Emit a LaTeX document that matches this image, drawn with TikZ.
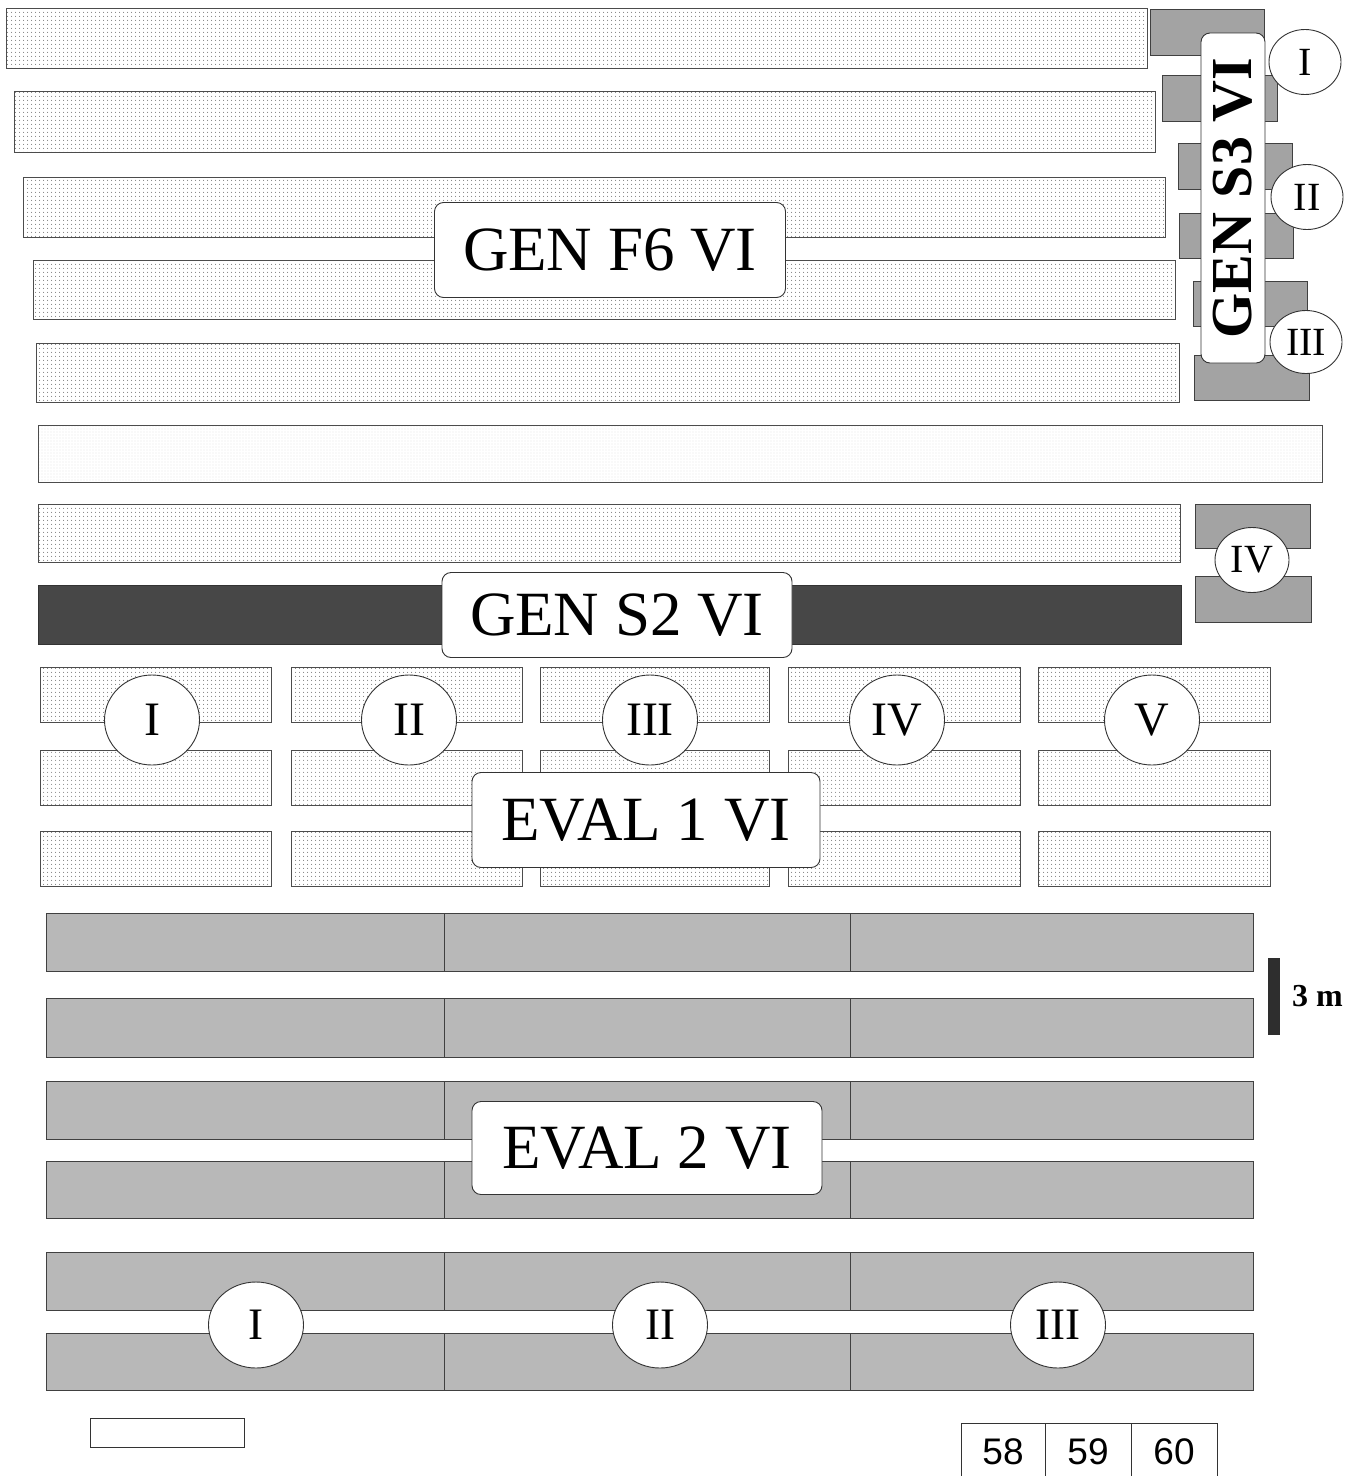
\documentclass[tikz,border=0pt]{standalone}
\usepackage{fontspec}
\setmainfont{Liberation Serif}
\newfontfamily\numfont{Liberation Sans}
\usetikzlibrary{shapes.geometric,patterns.meta}
\newcommand\fsz[1]{\fontsize{#1}{#1}\selectfont}
\tikzset{
  plotdot/.style={draw=black!70, line width=0.9pt, pattern={Dots[distance=4pt, radius=0.6pt]}, pattern color=black!55},
  plotlight/.style={draw=black!70, line width=0.9pt, pattern={Dots[distance=3pt, radius=0.45pt]}, pattern color=black!28},
  plotsmall/.style={draw=black!75, line width=0.9pt, fill=black!36},
  plotdark/.style={draw=black!80, line width=0.6pt, fill=black!72},
  plotgrey/.style={draw=black!75, line width=0.9pt, fill=black!28},
  divider/.style={draw=black!75, line width=0.9pt},
  lab/.style={draw=black!80, line width=0.9pt, fill=white, rounded corners=9pt, inner sep=0pt, font=\fsz{63}},
  circ/.style={ellipse, draw=black!80, line width=0.9pt, fill=white, inner sep=0pt},
  bigcirc/.style={circ, minimum width=95pt, minimum height=90pt, font=\fsz{48}},
  smallcirc/.style={circ, minimum width=72pt, minimum height=65pt, font=\fsz{40}},
  numbox/.style={draw=black!80, line width=0.9pt}
}
\begin{document}
\begin{tikzpicture}[x=1pt,y=-1pt]
\fill[white] (0,0) rectangle (1358,1476);
\useasboundingbox (0,0) rectangle (1358,1476);

% GEN F6 rows
\draw[plotdot] (6,8) rectangle (1147,68);
\draw[plotdot] (14,91) rectangle (1155,152);
\draw[plotdot] (23,177) rectangle (1165,237);
\draw[plotdot] (33,260) rectangle (1175,319);
\draw[plotdot] (36,343) rectangle (1179,402);
\draw[plotlight] (38,425) rectangle (1322,482);
\draw[plotdot] (38,504) rectangle (1180,562);
% GEN S2 bar
\draw[plotdark] (38,585) rectangle (1181,644);

% GEN S3 small plots
\draw[plotsmall] (1150,9) rectangle (1264,55);
\draw[plotsmall] (1162,75) rectangle (1277,121);
\draw[plotsmall] (1178,143) rectangle (1292,189);
\draw[plotsmall] (1179,213) rectangle (1293,258);
\draw[plotsmall] (1193,281) rectangle (1307,326);
\draw[plotsmall] (1194,355) rectangle (1309,400);
% IV plots
\draw[plotsmall] (1195,504) rectangle (1310,548);
\draw[plotsmall] (1195,576) rectangle (1311,622);

% EVAL 1 grid
\foreach \xa/\xb in {40/271, 291/522, 540/769, 788/1020, 1038/1270}{
  \draw[plotdot] (\xa,667) rectangle (\xb,722);
  \draw[plotdot] (\xa,750) rectangle (\xb,805);
  \draw[plotdot] (\xa,831) rectangle (\xb,886);
}

% EVAL 2 grid
\foreach \ya/\yb in {913/971, 998/1057, 1081/1139, 1161/1218, 1252/1310, 1333/1390}{
  \draw[plotgrey] (46,\ya) rectangle (1253,\yb);
  \draw[divider] (444,\ya) -- (444,\yb);
  \draw[divider] (850,\ya) -- (850,\yb);
}

% labels
\node[lab, minimum width=351pt, minimum height=95pt] (f6) at (610,250) {GEN F6 VI};
\node[lab, minimum width=350pt, minimum height=85pt] (s2) at (617,615) {GEN S2 VI};
\node[lab, minimum width=348pt, minimum height=95pt] (e1) at (646,820) {EVAL 1 VI};
\node[lab, minimum width=350pt, minimum height=93pt] (e2) at (647,1148) {EVAL 2 VI};
\node[lab, rotate=90, minimum width=330pt, minimum height=64pt, font=\fsz{58}\bfseries] (s3) at (1233,198) {GEN S3 VI};

% circles right
\node[smallcirc] (r1) at (1305,62) {I};
\node[smallcirc] (r2) at (1307,197) {II};
\node[smallcirc, minimum height=63pt] (r3) at (1306,342) {III};
\node[smallcirc, minimum width=74pt] (r4) at (1252,560) {IV};

% circles EVAL 1
\node[bigcirc] (a1) at (152,720) {I};
\node[bigcirc] (a2) at (409,720) {II};
\node[bigcirc] (a3) at (650,720) {III};
\node[bigcirc] (a4) at (897,720) {IV};
\node[bigcirc] (a5) at (1152,720) {V};

% circles EVAL 2
\node[bigcirc, minimum height=86pt, font=\fsz{45}] (b1) at (256,1325) {I};
\node[bigcirc, minimum height=86pt, font=\fsz{45}] (b2) at (660,1325) {II};
\node[bigcirc, minimum height=86pt, font=\fsz{45}] (b3) at (1058,1325) {III};

% scale bar
\fill[black!82] (1268,958) rectangle (1280,1035);
\node[font=\fsz{32}\bfseries, anchor=west, inner sep=0pt] (scale) at (1292,996) {3 m};

% empty legend box
\draw[numbox] (90,1418) rectangle (244,1447);

% numbered boxes
\draw[numbox] (961,1476) -- (961,1423) -- (1217,1423) -- (1217,1476);
\draw[numbox] (1045,1423) -- (1045,1476);
\draw[numbox] (1131,1423) -- (1131,1476);
\node[font=\numfont\fsz{37}] (n58) at (1003,1452) {58};
\node[font=\numfont\fsz{37}] (n59) at (1088,1452) {59};
\node[font=\numfont\fsz{37}] (n60) at (1174,1452) {60};
\end{tikzpicture}
\end{document}
